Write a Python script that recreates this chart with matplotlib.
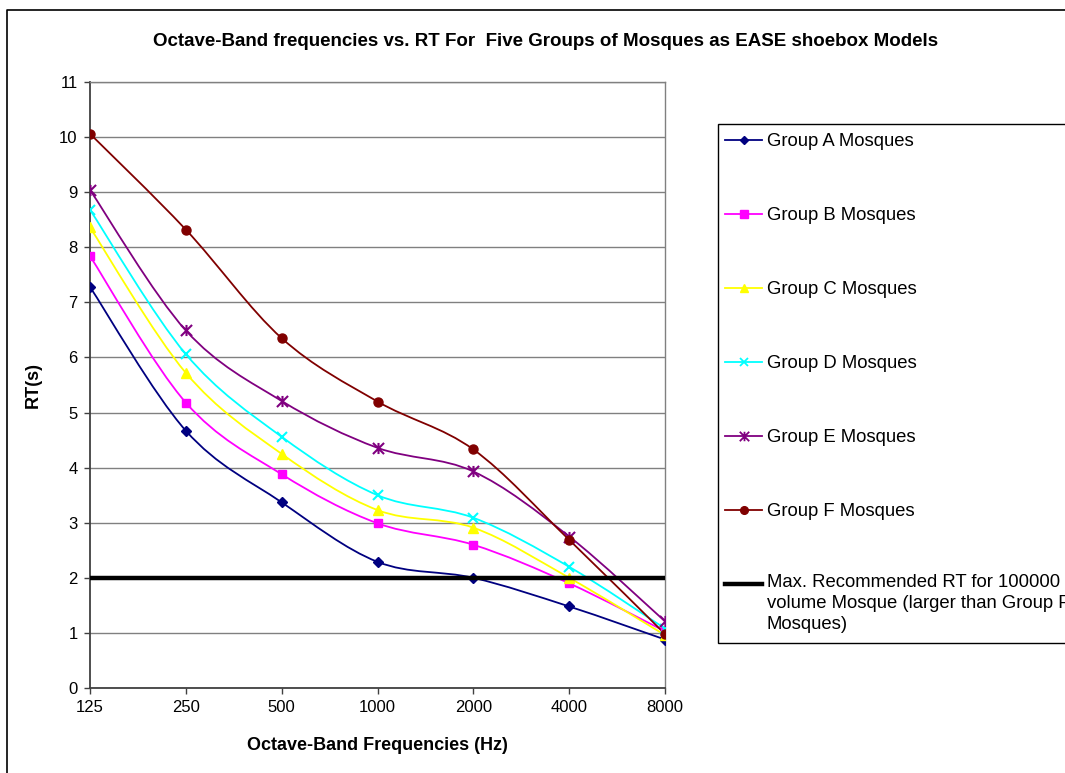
import matplotlib
matplotlib.use("Agg")
import matplotlib.pyplot as plt
import numpy as np
from matplotlib.path import Path
from matplotlib.patches import PathPatch, Rectangle
from matplotlib.lines import Line2D

plt.rcParams['font.family'] = ['Liberation Sans', 'DejaVu Sans']

# Octave-band centre frequencies (category axis)
frequencies = ["125", "250", "500", "1000", "2000", "4000", "8000"]

# Reverberation time (s) per group
group_a = [7.28, 4.67, 3.37, 2.29, 2.00, 1.48, 0.88]
group_b = [7.84, 5.18, 3.88, 2.99, 2.60, 1.90, 1.03]
group_c = [8.36, 5.72, 4.25, 3.23, 2.91, 2.00, 0.96]
group_d = [8.68, 6.06, 4.56, 3.50, 3.09, 2.20, 1.08]
group_e = [9.04, 6.49, 5.21, 4.36, 3.93, 2.75, 1.21]
group_f = [10.06, 8.32, 6.35, 5.20, 4.33, 2.69, 0.98]

labels = ["Group A Mosques", "Group B Mosques", "Group C Mosques",
          "Group D Mosques", "Group E Mosques", "Group F Mosques"]
limit_label = "Max. Recommended RT for 100000\nvolume Mosque (larger than Group F\nMosques)"
max_recommended_rt = 2.0

series = [group_a, group_b, group_c, group_d, group_e, group_f]
colors = ["#000080", "#FF00FF", "#FFFF00", "#00FFFF", "#800080", "#800000"]

# asterisk marker: an x with a vertical stroke
star = Path([(0, -1), (0, 1), (-1, -1), (1, 1), (-1, 1), (1, -1)],
            [Path.MOVETO, Path.LINETO, Path.MOVETO, Path.LINETO, Path.MOVETO, Path.LINETO])
markers = ["D", "s", "^", "x", star, "o"]
msizes = [5, 6, 7, 7, 8, 6.5]


def smooth_path(xs, ys):
    """Cubic Bezier path through the points (Catmull-Rom style smoothing)."""
    pts = np.column_stack([xs, ys]).astype(float)
    n = len(pts)
    verts = [pts[0]]
    codes = [Path.MOVETO]
    for i in range(n - 1):
        p0 = pts[i - 1] if i > 0 else pts[i]
        p1 = pts[i]
        p2 = pts[i + 1]
        p3 = pts[i + 2] if i + 2 < n else pts[i + 1]
        c1 = p1 + (p2 - p0) / 6.0
        c2 = p2 - (p3 - p1) / 6.0
        verts += [c1, c2, p2]
        codes += [Path.CURVE4] * 3
    return Path(verts, codes)


W, H = 1065, 773
fig = plt.figure(figsize=(W / 100, H / 100), dpi=100)
fig.patch.set_facecolor("white")

ax = fig.add_axes([90 / W, 1 - 688 / H, 575 / W, 606 / H])
x = np.arange(len(frequencies))

for vals, c, m, ms in zip(series, colors, markers, msizes):
    ax.add_patch(PathPatch(smooth_path(x, vals), facecolor="none", edgecolor=c,
                           lw=1.3, zorder=3))
    ax.plot(x, vals, linestyle="none", marker=m, color=c, markersize=ms,
            markeredgewidth=1.5 if (m == "x" or m is star) else 1.0, zorder=4)

ax.axhline(max_recommended_rt, color="black", lw=3.2, zorder=5)

ax.set_xlim(0, len(frequencies) - 1)
ax.set_ylim(0, 11)
ax.set_xticks(x)
ax.set_xticklabels(frequencies)
ax.set_yticks(np.arange(0, 12, 1))
ax.yaxis.grid(True, color="#808080", lw=1.0)
ax.set_axisbelow(True)

for side in ("top", "right"):
    ax.spines[side].set_color("#808080")
    ax.spines[side].set_linewidth(1.0)
for side in ("left", "bottom"):
    ax.spines[side].set_color("#404040")
    ax.spines[side].set_linewidth(1.3)

ax.tick_params(axis="both", direction="out", length=4, width=1.0,
               color="#404040", labelsize=12, pad=5)
ax.tick_params(axis="x", pad=5)

ax.set_ylabel("RT(s)", fontsize=13, fontweight="bold")
ax.yaxis.set_label_coords((42 - 90) / 575, 0.5)
ax.set_xlabel("Octave-Band Frequencies (Hz)", fontsize=13, fontweight="bold")
ax.xaxis.set_label_coords(0.5, (688 - 737) / 606)

# overlay in pixel coordinates for title, chart frame and legend
ov = fig.add_axes([0, 0, 1, 1], zorder=-1)
ov.set_xlim(0, W)
ov.set_ylim(H, 0)
ov.axis("off")
ov.plot([7, 7, W + 5], [H + 5, 10, 10], color="black", lw=1.2)

fig.text(546 / W, 1 - 42 / H,
         "Octave-Band frequencies vs. RT For  Five Groups of Mosques as EASE shoebox Models",
         ha="center", va="center", fontsize=13.5, fontweight="bold")

lg = fig.add_axes([0, 0, 1, 1], zorder=5)
lg.set_xlim(0, W)
lg.set_ylim(H, 0)
lg.axis("off")
lg.add_patch(Rectangle((718, 124), W, 519, facecolor="white", edgecolor="black",
                       lw=1.0, clip_on=False))
ys = [141, 215, 289, 363, 437, 511]
for yy, lab, c, m, ms in zip(ys, labels, colors, markers, msizes):
    lg.add_line(Line2D([725, 762], [yy - 1, yy - 1], color=c, lw=1.3))
    lg.add_line(Line2D([743.5], [yy - 1], color=c, marker=m, markersize=ms * 0.85,
                       markeredgewidth=1.3 if (m == "x" or m is star) else 1.0))
    lg.text(767, yy, lab, fontsize=13.3, va="center", ha="left")
lg.add_line(Line2D([725, 762], [584, 584], color="black", lw=3.2))
lg.text(767, 584 - 10, limit_label, fontsize=13.3, va="top", ha="left",
        linespacing=1.3)

fig.savefig("out.png", dpi=100)
